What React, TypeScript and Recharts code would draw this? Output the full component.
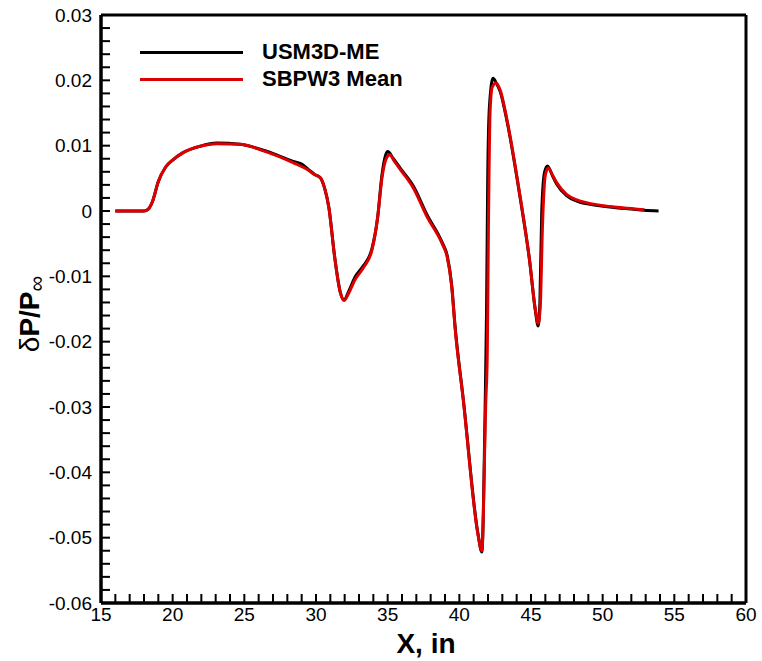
import { Line, LineChart, ReferenceLine, XAxis, YAxis } from "recharts";

type Pt = { x: number; y: number };

// SBPW3 Mean (red)
const sbpwX = [
  16.0, 17.0, 18.0, 18.3, 18.6, 19.0, 19.5, 20.0, 20.7, 21.9, 23.1, 24.7, 26.6, 28.4, 29.5, 29.9,
  30.3, 30.6, 30.9, 31.3, 31.7, 31.95, 32.3, 32.7, 33.3, 33.9, 34.3, 34.6, 34.9, 35.15, 35.5, 35.9,
  36.8, 37.75, 38.8, 39.15, 39.47, 39.7, 40.28, 41.3, 41.57, 41.85, 41.95, 42.03, 42.15, 42.3, 42.56,
  42.85, 43.33, 44.2, 44.9, 45.3, 45.5, 45.65, 45.8, 46.0, 46.2, 46.5, 46.8, 47.5, 48.2, 49.8, 51.4,
  52.9,
];
const sbpwY = [
  0, 0, 0, 0.0003, 0.0015, 0.0045, 0.0067, 0.0078, 0.0089, 0.0099, 0.0103, 0.0102, 0.009, 0.0074,
  0.0062, 0.0056, 0.0051, 0.0035, 0.0005, -0.007, -0.0125, -0.0137, -0.0125, -0.0106, -0.0087, -0.006,
  -0.001, 0.005, 0.008, 0.0086, 0.0075, 0.0063, 0.0035, -0.0009, -0.005, -0.007, -0.0116, -0.0178,
  -0.029, -0.0495, -0.052, -0.029, -0.022, -0.0025, 0.0154, 0.019, 0.0196, 0.0185, 0.0139, 0.0028,
  -0.0075, -0.015, -0.0172, -0.0145, -0.0024, 0.0055, 0.0066, 0.0055, 0.0043, 0.0025, 0.0017, 0.0009,
  0.0005, 0.0002,
];

// USM3D-ME (black)
const usmX = [
  16.0, 17.0, 18.0, 18.3, 18.6, 19.0, 19.5, 20.0, 20.7, 21.9, 23.1, 24.7, 26.6, 28.4, 29.0, 29.5,
  29.9, 30.3, 30.6, 30.9, 31.3, 31.7, 31.95, 32.3, 32.7, 33.3, 33.9, 34.3, 34.6, 34.85, 35.0, 35.4,
  35.9, 36.8, 37.75, 38.8, 39.15, 39.47, 39.7, 40.28, 41.3, 41.57, 41.8, 41.9, 41.98, 42.1, 42.35,
  42.6, 42.85, 43.33, 44.2, 44.9, 45.3, 45.5, 45.62, 45.75, 45.95, 46.15, 46.5, 46.8, 47.5, 48.2,
  49.8, 51.4, 52.9, 53.9,
];
const usmY = [
  0, 0, 0, 0.0003, 0.0015, 0.0045, 0.0067, 0.0078, 0.0089, 0.0099, 0.0104, 0.0102, 0.0091, 0.0076,
  0.0072, 0.0063, 0.0056, 0.0051, 0.0035, 0.0005, -0.007, -0.0125, -0.0136, -0.0122, -0.0102, -0.0084,
  -0.0058, -0.001, 0.0055, 0.0085, 0.0091, 0.008, 0.0065, 0.0038, -0.0006, -0.0048, -0.0068, -0.0114,
  -0.0176, -0.0289, -0.0494, -0.0522, -0.03, -0.015, 0.005, 0.016, 0.0203, 0.0195, 0.0183, 0.0137,
  0.0026, -0.0076, -0.0152, -0.0176, -0.014, 0.0, 0.006, 0.0069, 0.0054, 0.0041, 0.0023, 0.0015,
  0.0008, 0.0004, 0.0001, 0.0,
];

const xMajor = [15, 20, 25, 30, 35, 40, 45, 50, 55, 60];
const yMajor = [-0.06, -0.05, -0.04, -0.03, -0.02, -0.01, 0, 0.01, 0.02, 0.03];
const yLabels = ["-0.06", "-0.05", "-0.04", "-0.03", "-0.02", "-0.01", "0", "0.01", "0.02", "0.03"];

const xMinorPerMajor = 5;
const yMinorPerMajor = 5;

function subdivide(major: number[], parts: number): number[] {
  const out: number[] = [];
  for (let i = 0; i < major.length - 1; i++) {
    const step = (major[i + 1] - major[i]) / parts;
    for (let k = 0; k < parts; k++) out.push(+(major[i] + step * k).toFixed(6));
  }
  out.push(major[major.length - 1]);
  return out;
}

const xTicks = subdivide(xMajor, xMinorPerMajor);
const yTicks = subdivide(yMajor, yMinorPerMajor);

const zip = (xs: number[], ys: number[]): Pt[] => xs.map((x, i) => ({ x, y: ys[i] }));
const sbpwData = zip(sbpwX, sbpwY);
const usmData = zip(usmX, usmY);

const FONT = '"Liberation Sans", Arial, sans-serif';

const near = (a: number, b: number) => Math.abs(a - b) < 1e-7;
const fmtX = (v: number) => (xMajor.some((m) => near(m, v)) ? String(v) : "");
const fmtY = (v: number) => {
  const i = yMajor.findIndex((m) => near(m, v));
  return i >= 0 ? yLabels[i] : "";
};

const legendItems = [
  { name: "USM3D-ME", color: "#000" },
  { name: "SBPW3 Mean", color: "#dd0000" },
];

export default function App() {
  return (
    <div style={{ position: "relative", width: 762, height: 661, background: "#fff" }}>
      <style>{"body{margin:0}"}</style>
      <LineChart width={762} height={661} margin={{ top: 15, right: 16, bottom: 48, left: 91 }}>
        <XAxis
          dataKey="x"
          type="number"
          domain={[15, 60]}
          ticks={xTicks}
          interval={0}
          height={10}
          stroke="#000"
          tickSize={-9}
          tickMargin={14}
          tickFormatter={fmtX}
          tick={{ fontSize: 19, fill: "#000", fontFamily: FONT }}
          tickLine={{ stroke: "#000", strokeWidth: 2 }}
          axisLine={{ stroke: "#000", strokeWidth: 3.5 }}
        />
        <YAxis
          type="number"
          domain={[-0.06, 0.03]}
          ticks={yTicks}
          interval={0}
          width={10}
          stroke="#000"
          tickSize={-9}
          tickMargin={18}
          tickFormatter={fmtY}
          tick={{ fontSize: 19, fill: "#000", fontFamily: FONT }}
          tickLine={{ stroke: "#000", strokeWidth: 2 }}
          axisLine={{ stroke: "#000", strokeWidth: 3.5 }}
        />
        <ReferenceLine y={0.03} stroke="#000" strokeWidth={3} />
        <ReferenceLine x={60} stroke="#000" strokeWidth={3} />
        <Line
          data={usmData}
          dataKey="y"
          type="monotone"
          stroke="#000"
          strokeWidth={3}
          dot={false}
          isAnimationActive={false}
        />
        <Line
          data={sbpwData}
          dataKey="y"
          type="monotone"
          stroke="#dd0000"
          strokeWidth={3}
          dot={false}
          isAnimationActive={false}
        />
      </LineChart>

      {legendItems.map((it, i) => (
        <div
          key={it.name}
          style={{
            position: "absolute",
            left: 140,
            top: 39 + i * 27,
            display: "flex",
            alignItems: "center",
            fontFamily: FONT,
            fontWeight: "bold",
            fontSize: 22,
            lineHeight: "26px",
            color: "#000",
            whiteSpace: "nowrap",
          }}
        >
          <span style={{ width: 103, height: 3, background: it.color, marginRight: 19 }} />
          {it.name}
        </div>
      ))}

      <div
        style={{
          position: "absolute",
          left: 0,
          width: 852,
          top: 628,
          textAlign: "center",
          fontFamily: FONT,
          fontWeight: "bold",
          fontSize: 28,
          lineHeight: "32px",
        }}
      >
        X, in
      </div>

      <div
        style={{
          position: "absolute",
          left: 31,
          top: 314,
          transform: "translate(-50%, -50%) rotate(-90deg)",
          transformOrigin: "center",
          fontFamily: FONT,
          fontSize: 28,
          lineHeight: "32px",
          whiteSpace: "nowrap",
        }}
      >
        δ<b>P/P</b>
        <span style={{ fontSize: 22, position: "relative", top: 5 }}>∞</span>
      </div>
    </div>
  );
}
